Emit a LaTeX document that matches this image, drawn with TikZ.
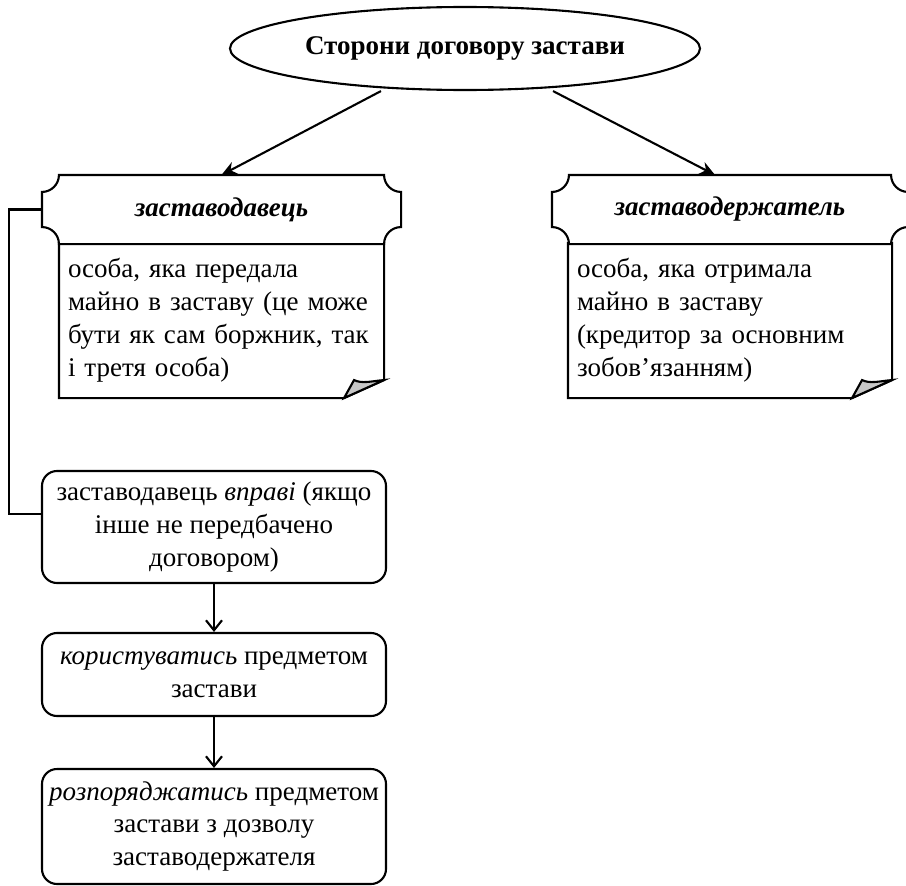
\documentclass[tikz,border=0pt]{standalone}
\usepackage{fontspec}
\setmainfont{Liberation Serif}
\usetikzlibrary{arrows.meta,calc,shapes.geometric}
\newcommand\drawplaque[1]{%
\draw[fill=white] let \p1=(#1.north west), \p2=(#1.south east), \n1={17pt}, \n2={9.4pt} in
 (\x1+\n1,\y1) -- (\x2-\n1,\y1) .. controls (\x2-\n1,\y1-\n2) and (\x2-\n2,\y1-\n1) .. (\x2,\y1-\n1)
 -- (\x2,\y2+\n1) .. controls (\x2-\n2,\y2+\n1) and (\x2-\n1,\y2+\n2) .. (\x2-\n1,\y2)
 -- (\x1+\n1,\y2) .. controls (\x1+\n1,\y2+\n2) and (\x1+\n2,\y2+\n1) .. (\x1,\y2+\n1)
 -- (\x1,\y1-\n1) .. controls (\x1+\n2,\y1-\n1) and (\x1+\n1,\y1-\n2) .. cycle;}
\newcommand\drawnote[1]{%
\draw let \p1=(#1.north west), \p2=(#1.south east) in
 (\x1,\y1) -- (\x2,\y1) -- (\x2,\y2+18pt) -- (\x2-40pt,\y2) -- (\x1,\y2) -- cycle;
\filldraw[fill=black!22] let \p1=(#1.north west), \p2=(#1.south east) in
 (\x2-40pt,\y2) -- (\x2-30pt,\y2+18pt) .. controls (\x2-22pt,\y2+14pt) and (\x2-12pt,\y2+17pt) .. (\x2,\y2+18pt) -- cycle;}
\begin{document}
\begin{tikzpicture}[x=1pt,y=-1pt,line width=2.1pt,
  txt/.style={font=\fontsize{27}{33}\selectfont},
  topnode/.style={txt,ellipse,draw,minimum width=470pt,minimum height=83pt,inner sep=0pt},
  plaque/.style={txt,minimum height=67pt,inner sep=0pt},
  notebox/.style={txt,minimum height=153pt,inner xsep=8pt,inner ysep=0pt,align=left},
  boxnode/.style={txt,draw,rounded corners=15pt,minimum width=344pt,inner xsep=2pt,inner ysep=0pt,align=center},
  diag/.style={-{Stealth[length=15pt,width=13pt]}},
  vert/.style={-{Straight Barb[length=10pt,width=16pt]}}]
\useasboundingbox (0,0) rectangle (906,886);

\node[topnode] (top) at (465,48.5) {\textbf{Сторони договору застави}};

% notes
\node[notebox,text width=307pt] (zdn) at (221.5,320.5) {особа, яка передала\\майно в заставу (це може\\бути як сам боржник, так\\і третя особа)};
\drawnote{zdn}
\node[notebox,text width=306pt] (zrn) at (730,320.5) {особа, яка отримала\\майно в заставу\\(кредитор за основним\\зобов’язанням)};
\drawnote{zrn}

% plaques
\node[plaque,minimum width=357pt] (zd) at (221.5,209.5) {};
\drawplaque{zd}
\node[txt] at (zd) {\textbf{\textit{заставодавець}}};
\node[plaque,minimum width=354pt] (zr) at (730,209.5) {};
\drawplaque{zr}
\node[txt] at (zr) {\textbf{\textit{заставодержатель}}};

% lower boxes
\node[boxnode,minimum height=112pt] (b1) at (214,527) {заставодавець \textit{вправі} (якщо\\інше не передбачено\\договором)};
\node[boxnode,minimum height=83pt] (b2) at (214,674.5) {\textit{користуватись} предметом\\застави};
\node[boxnode,minimum height=115pt] (b3) at (214,826.5) {\textit{розпоряджатись} предметом\\застави з дозволу\\заставодержателя};

% connectors
\draw[diag] ([xshift=-84pt]top.south) -- (zd.north);
\draw[diag] ([xshift=88pt]top.south) -- ([xshift=-15pt]zr.north);
\draw[vert] (b1.south) -- (b2.north);
\draw[vert] (b2.south) -- (b3.north);
\draw (zd.west) -- ++(-33,0) |- ([yshift=13pt]b1.west);
\end{tikzpicture}
\end{document}
